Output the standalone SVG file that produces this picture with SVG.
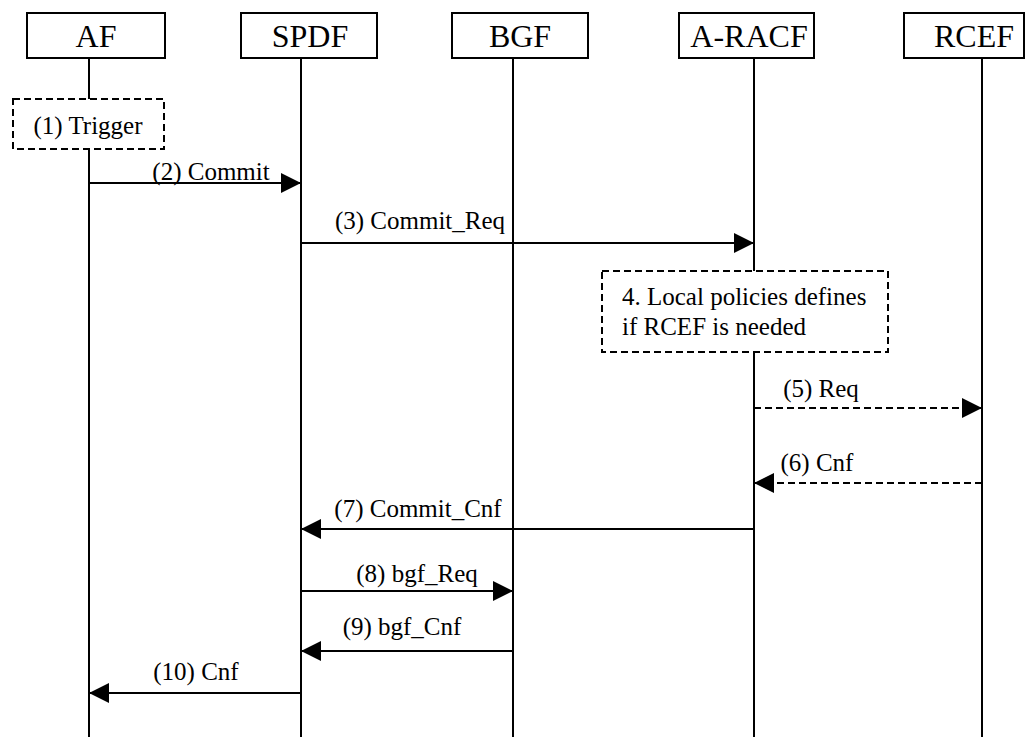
<svg xmlns="http://www.w3.org/2000/svg" width="1029" height="737" viewBox="0 0 1029 737">
<style>
.box{fill:#fff;stroke:#000;stroke-width:2}
text{font-family:'Liberation Serif','Times New Roman',serif;fill:#000}
.lbl{font-size:32px;text-anchor:middle}
.msg{font-size:25px;text-anchor:middle}
.note{font-size:25px}
.life{stroke:#000;stroke-width:2;fill:none}
.arr{stroke:#000;stroke-width:2;fill:none}
.dash{stroke-dasharray:7,4}
.dbox{fill:#fff;stroke:#000;stroke-width:2;stroke-dasharray:7,4}
</style>
<defs>
<marker id="ah" markerUnits="userSpaceOnUse" markerWidth="20" markerHeight="20" refX="20" refY="10" orient="auto">
<path d="M0,0 L20,10 L0,20 Z" fill="#000"/>
</marker>
</defs>
<rect width="1029" height="737" fill="#fff"/>
<g id="lifelines">
<line class="life" x1="89" y1="58" x2="89" y2="737"/>
<line class="life" x1="301" y1="58" x2="301" y2="737"/>
<line class="life" x1="513" y1="58" x2="513" y2="737"/>
<line class="life" x1="754" y1="58" x2="754" y2="737"/>
<line class="life" x1="982" y1="58" x2="982" y2="737"/>
</g>
<g id="AF"><rect class="box" x="27" y="13" width="138" height="45"/><text class="lbl" x="96" y="47">AF</text></g>
<g id="SPDF"><rect class="box" x="241" y="13" width="136" height="45"/><text class="lbl" x="310" y="47">SPDF</text></g>
<g id="BGF"><rect class="box" x="452" y="13" width="136" height="45"/><text class="lbl" x="520" y="47">BGF</text></g>
<g id="A-RACF"><rect class="box" x="679" y="13" width="135" height="45"/><text class="lbl" x="749" y="47">A-RACF</text></g>
<g id="RCEF"><rect class="box" x="904" y="13" width="120" height="45"/><text class="lbl" x="974" y="47">RCEF</text></g>
<g id="trigger"><rect class="dbox" x="13" y="99" width="151" height="50"/><text class="msg" x="88" y="134">(1) Trigger</text></g>
<g id="policy"><rect class="dbox" x="602" y="271" width="286" height="81"/>
<text class="note" x="622" y="305">4. Local policies defines</text>
<text class="note" x="622" y="335">if RCEF is needed</text></g>
<g id="connectors">
<line class="arr" x1="89" y1="183" x2="301" y2="183" marker-end="url(#ah)"/>
<line class="arr" x1="301" y1="243" x2="754" y2="243" marker-end="url(#ah)"/>
<line class="arr dash" x1="754" y1="408" x2="982" y2="408" marker-end="url(#ah)"/>
<line class="arr dash" x1="982" y1="483" x2="754" y2="483" marker-end="url(#ah)"/>
<line class="arr" x1="754" y1="529" x2="301" y2="529" marker-end="url(#ah)"/>
<line class="arr" x1="301" y1="591" x2="513" y2="591" marker-end="url(#ah)"/>
<line class="arr" x1="513" y1="651" x2="301" y2="651" marker-end="url(#ah)"/>
<line class="arr" x1="301" y1="693" x2="89" y2="693" marker-end="url(#ah)"/>
</g>
<g id="labels">
<text class="msg" x="211" y="180">(2) Commit</text>
<text class="msg" x="420" y="229">(3) Commit_Req</text>
<text class="msg" x="821" y="397">(5) Req</text>
<text class="msg" x="817" y="471">(6) Cnf</text>
<text class="msg" x="418" y="517">(7) Commit_Cnf</text>
<text class="msg" x="417" y="582">(8) bgf_Req</text>
<text class="msg" x="402" y="635">(9) bgf_Cnf</text>
<text class="msg" x="196" y="680">(10) Cnf</text>
</g>
</svg>
